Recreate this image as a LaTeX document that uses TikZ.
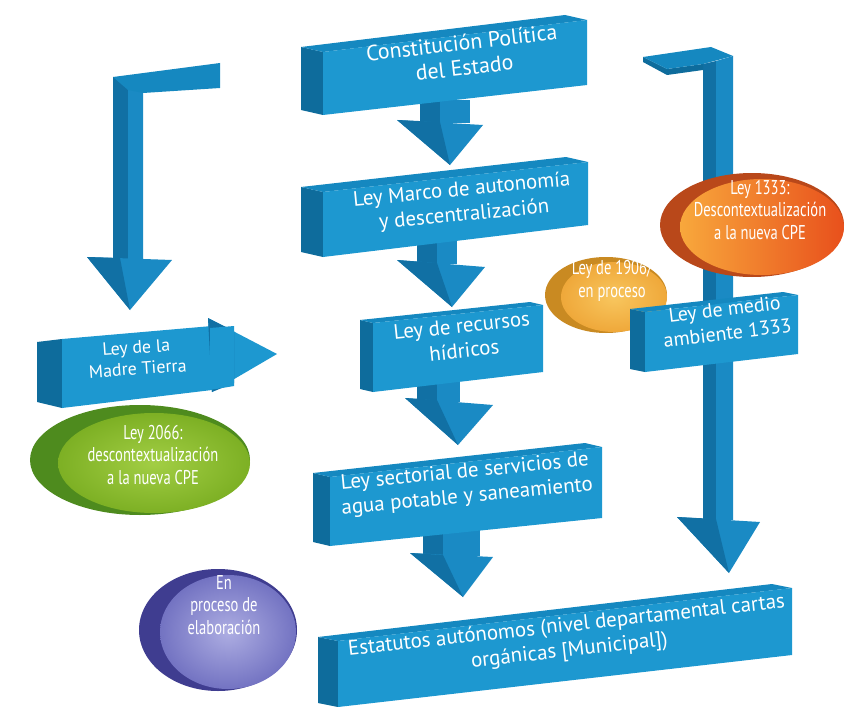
\documentclass[tikz,border=0pt]{standalone}
\usepackage{fontspec}
\setmainfont{PT Sans}
\newfontfamily\narrowfont[FakeStretch=0.73]{PT Sans}
\usetikzlibrary{calc}
\definecolor{cFront}{HTML}{1D98D0}
\definecolor{cSide}{HTML}{0E6C9C}
\definecolor{cTop}{HTML}{1588C0}
\definecolor{cMid}{HTML}{1A8AC4}
\definecolor{cFacet}{HTML}{1170A4}
\definecolor{cGreenD}{HTML}{4E8B1E}
\definecolor{cGreenA}{HTML}{A2CE44}
\definecolor{cGreenB}{HTML}{7DB024}
\definecolor{cOrD}{HTML}{B9481A}
\definecolor{cOrA}{HTML}{F8A83C}
\definecolor{cOrB}{HTML}{E8501C}
\definecolor{cYeD}{HTML}{C98A22}
\definecolor{cYeA}{HTML}{F8C65E}
\definecolor{cYeB}{HTML}{EFA83A}
\definecolor{cPuD}{HTML}{3F3D90}
\definecolor{cPuA}{HTML}{ADADE2}
\definecolor{cPuB}{HTML}{7373C2}
\newcommand{\mkbox}[5]{%
  \fill[cSide] (#1) -- (#4) -- ($(#4)+(#5)$) -- ($(#1)+(#5)$) -- cycle;
  \fill[cTop] (#1) -- (#2) -- ($(#2)+(#5)$) -- ($(#1)+(#5)$) -- cycle;
  \fill[cFront] (#1) -- (#2) -- (#3) -- (#4) -- cycle;}
% #1 left x, #2 mid x, #3 right x, #4 top y, #5 bottom y, #6 head left, #7 head right, #8 tip, #9 facet point
\newcommand{\mkdarrow}[9]{%
  \fill[cFacet] (#1,#4) rectangle (#2,#5);
  \fill[cMid] (#2,#4) rectangle (#3,#5);
  \fill[cMid] (#6) -- (#7) -- (#8) -- cycle;
  \fill[cFacet] (#6) -- (#9) -- (#8) -- cycle;}
\begin{document}
\begin{tikzpicture}[x=1bp,y=-1bp,
  lbl/.style={text=white, align=center, inner sep=0pt, font=\fontsize{21}{25}\selectfont},
  bigl/.style={lbl, font=\fontsize{22}{25}\selectfont},
  midl/.style={lbl, font=\fontsize{20}{24}\selectfont},
  smll/.style={lbl, font=\fontsize{18}{21.5}\selectfont},
  elbl/.style={text=white, align=center, inner sep=0pt, font=\narrowfont\fontsize{20}{22.5}\selectfont}]
\useasboundingbox (0,0) rectangle (845,707);
\fill[white] (0,0) rectangle (845,707);

% right L-arrow
\fill[cFacet] (703,64) -- (716,61) -- (716,520) -- (703,520) -- cycle;
\fill[cMid] (716,61) -- (733,56) -- (733,520) -- (716,520) -- cycle;
\fill[cSide] (643,57) -- (667,69) -- (703,64) -- (703,70) -- (667,75) -- (643,62) -- cycle;
\fill[cTop] (643,57) -- (711,47) -- (733,56) -- (703,64) -- (667,69) -- cycle;
\fill[cMid] (677,517) -- (760,522) -- (729,573) -- cycle;
\fill[cFacet] (677,517) -- (716,519) -- (729,573) -- cycle;

% left L-arrow
\fill[cFacet] (113,77) -- (128,80) -- (128,260) -- (113,260) -- cycle;
\fill[cMid] (128,80) -- (143,82) -- (143,260) -- (128,260) -- cycle;
\fill[cTop] (113,77) -- (220,63) -- (220,88) -- (143,93) -- (128,90) -- cycle;
\fill[cMid] (87,257) -- (172,260) -- (130,310) -- cycle;
\fill[cFacet] (87,257) -- (120,258) -- (130,310) -- cycle;

% down arrows
\mkdarrow{420}{440}{470}{100}{123}{397,120}{483,125}{450,165}{440,122}
\mkdarrow{417}{437}{457}{240}{264}{397,260}{485,267}{452,307}{437,263}
\mkdarrow{417}{437}{460}{375}{402}{405,398}{493,405}{458,445}{437,400}
\mkdarrow{423}{443}{480}{525}{556}{410,553}{493,557}{463,597}{443,555}

% main boxes
\mkbox{323,52}{587,20}{587,85}{323,115}{-22,-5}
\mkbox{323,192}{588,162}{588,225}{323,257}{-22,-5}
\mkbox{373,323}{543,305}{543,372}{373,392}{-13,-3}
\mkbox{330,477}{602,447}{602,518}{330,546}{-17,-4}
\mkbox{338,641}{792,588}{792,655}{338,707}{-20,-4}

% green ellipse
\fill[cGreenD] (140,460) ellipse [x radius=110, y radius=55];
\shade[inner color=cGreenA, outer color=cGreenB] (154,463) ellipse [x radius=96, y radius=50];

% Madre Tierra arrow
\fill[cSide] (37,342) -- (62,339) -- (62,408) -- (37,402) -- cycle;
\fill[cFront] (62,339) -- (212,326) -- (212,390) -- (62,408) -- cycle;
\fill[cFront] (208,318) -- (277,354) -- (212,392) -- cycle;
\fill[cFacet] (208,318) -- (234,331) -- (234,383) -- (212,392) -- cycle;
\fill[cFront] (210,328) -- (234,326) -- (234,386) -- (210,390) -- cycle;

% yellow ellipse
\fill[cYeD] (606,295) ellipse [x radius=61, y radius=38];
\shade[inner color=cYeA, outer color=cYeB] (614,297) ellipse [x radius=53, y radius=35];

% orange ellipse
\fill[cOrD] (752,225) ellipse [x radius=92, y radius=52];
\shade[left color=cOrA, right color=cOrB] (762,227) ellipse [x radius=82, y radius=48];

% medio ambiente box
\mkbox{645,312}{798,295}{798,354}{645,372}{-15,-3}

% purple ellipse
\fill[cPuD] (218,630) ellipse [x radius=79, y radius=61];
\shade[inner color=cPuA, outer color=cPuB] (228,632) ellipse [x radius=68, y radius=57];

% texts
\node[bigl, rotate=6.5] (t1) at (463,55) {Constitución Política\\del Estado};
\node[lbl, rotate=5.5] (t2) at (463,203) {Ley Marco de autonomía\\y descentralización};
\node[lbl, rotate=6] (t3) at (463,338) {Ley de recursos\\hídricos};
\node[lbl, rotate=5.5] (t4) at (466,485) {Ley sectorial de servicios de\\agua potable y saneamiento};
\node[lbl, rotate=6.3] (t5) at (568,639) {Estatutos autónomos (nivel departamental cartas\\orgánicas [Municipal])};
\node[smll, rotate=4] (t6) at (137,358) {Ley de la\\Madre Tierra};
\node[midl, rotate=7] (t7) at (726,321) {Ley de medio\\ambiente 1333};
\node[elbl] (e1) at (153,455) {Ley 2066:\\descontextualización\\a la nueva CPE};
\node[elbl] (e2) at (760,210) {Ley 1333:\\Descontextualización\\a la nueva CPE};
\node[elbl] (e3) at (612,281) {Ley de 1906/\\en proceso};
\node[elbl] (e4) at (224,605) {En\\proceso de\\elaboración};
\end{tikzpicture}
\end{document}
